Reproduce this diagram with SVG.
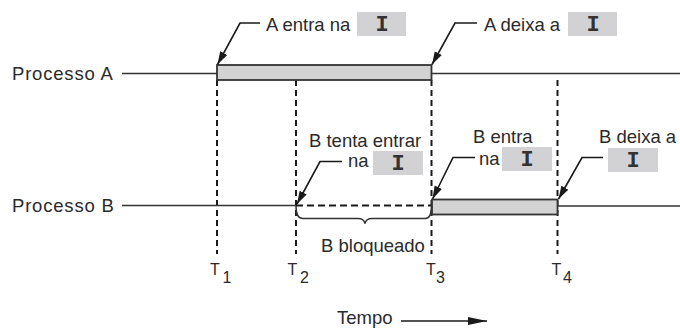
<svg xmlns="http://www.w3.org/2000/svg" width="680" height="329" viewBox="0 0 680 329">
  <style>
    .lbl { font-family: "Liberation Sans", Arial, Helvetica, sans-serif; font-size: 18.5px; fill: #2a2a2a; }
    .proc { letter-spacing: 0.8px; }
    .tl { font-family: "Liberation Sans", Arial, Helvetica, sans-serif; font-size: 16px; fill: #2a2a2a; }
    .res { font-family: "Liberation Mono", "Courier New", monospace; font-size: 22px; font-weight: bold; fill: #333; text-anchor: middle; }
    .box { fill: #d2d2d4; }
    .axis { stroke: #333; stroke-width: 1.4; fill: none; }
    .bar { fill: #d3d3d3; stroke: #333; stroke-width: 1.8; }
    .tick { stroke: #1a1a1a; stroke-width: 2; stroke-dasharray: 6 4; fill: none; }
    .wait { stroke: #1a1a1a; stroke-width: 2; stroke-dasharray: 7 4; fill: none; }
    .lead { stroke: #1a1a1a; stroke-width: 1.6; fill: none; }
    .brace { stroke: #333; stroke-width: 1.5; fill: none; }
  </style>
  <defs>
    <marker id="tip" markerUnits="userSpaceOnUse" markerWidth="14" markerHeight="10" refX="13" refY="4" orient="auto">
      <path d="M0,0 L13,4 L0,8 Z" fill="#1a1a1a"/>
    </marker>
    <marker id="timeTip" markerUnits="userSpaceOnUse" markerWidth="20" markerHeight="10" refX="19" refY="4" orient="auto">
      <path d="M0,0 L19,4 L0,8 Z" fill="#1a1a1a"/>
    </marker>
  </defs>

  <!-- time marks -->
  <g id="marks">
    <line class="tick" x1="217" y1="80" x2="217" y2="254"/>
    <line class="tick" x1="296" y1="80" x2="296" y2="254"/>
    <line class="tick" x1="431.5" y1="80" x2="431.5" y2="254"/>
    <line class="tick" x1="557.5" y1="80" x2="557.5" y2="254"/>
    <text class="tl" x="210" y="275">T</text><text class="tl" x="222.5" y="282.5">1</text>
    <text class="tl" x="287.5" y="275">T</text><text class="tl" x="300" y="282.5">2</text>
    <text class="tl" x="426" y="275">T</text><text class="tl" x="436" y="282.5">3</text>
    <text class="tl" x="551.5" y="275">T</text><text class="tl" x="563" y="282.5">4</text>
  </g>

  <!-- process A timeline -->
  <g id="procA">
    <text class="lbl proc" x="12" y="80">Processo A</text>
    <line class="axis" x1="122" y1="73.5" x2="217" y2="73.5"/>
    <line class="axis" x1="431" y1="73.5" x2="680" y2="73.5"/>
    <rect class="bar" x="217" y="65" width="214.5" height="15"/>
  </g>

  <!-- process B timeline -->
  <g id="procB">
    <text class="lbl proc" x="12" y="212">Processo B</text>
    <line class="axis" x1="122" y1="205.5" x2="296" y2="205.5"/>
    <line class="wait" x1="296" y1="205.5" x2="432" y2="205.5"/>
    <line class="axis" x1="557" y1="206" x2="680" y2="206"/>
    <rect class="bar" x="432" y="199.5" width="125.5" height="15"/>
    <path class="brace" d="M296,206 Q296,218.5 303,218.5 L358,218.5 Q364,218.5 365,223.5 Q366,218.5 372,218.5 L425,218.5 Q431.5,218.5 431.5,206"/>
    <text class="lbl" x="321" y="252">B bloqueado</text>
  </g>

  <!-- event labels -->
  <g id="aEnters">
    <text class="lbl" x="266" y="31">A entra na</text>
    <rect class="box" x="357" y="12" width="49" height="24"/>
    <text class="res" x="382" y="31">I</text>
  </g>
  <g id="aLeaves">
    <text class="lbl" x="484" y="31">A deixa a</text>
    <rect class="box" x="568" y="12" width="49" height="24"/>
    <text class="res" x="593" y="31">I</text>
  </g>
  <g id="bTries">
    <text class="lbl" x="309" y="146.5">B tenta entrar</text>
    <text class="lbl" x="348" y="166.5">na</text>
    <rect class="box" x="373" y="151" width="50" height="24"/>
    <text class="res" x="398" y="170">I</text>
  </g>
  <g id="bEnters">
    <text class="lbl" x="473" y="142.5">B entra</text>
    <text class="lbl" x="479" y="165">na</text>
    <rect class="box" x="502" y="147" width="50" height="24"/>
    <text class="res" x="527" y="166">I</text>
  </g>
  <g id="bLeaves">
    <text class="lbl" x="599" y="142.5">B deixa a</text>
    <rect class="box" x="608" y="148" width="50" height="24"/>
    <text class="res" x="633" y="167">I</text>
  </g>

  <!-- time axis -->
  <g id="tempo">
    <text class="lbl" x="337" y="324">Tempo</text>
  </g>

  <!-- connectors -->
  <g id="connectors">
    <polyline class="lead" points="260,23 240,23 217.5,64.5" marker-end="url(#tip)"/>
    <polyline class="lead" points="477,23 455,23 432,64.5" marker-end="url(#tip)"/>
    <polyline class="lead" points="342,161.5 320,161.5 297,204" marker-end="url(#tip)"/>
    <polyline class="lead" points="475,157.5 453,157.5 432.5,199" marker-end="url(#tip)"/>
    <polyline class="lead" points="603,157.5 582,157.5 558.5,199" marker-end="url(#tip)"/>
    <line class="lead" x1="401" y1="321" x2="487" y2="321" stroke-width="1.8" marker-end="url(#timeTip)"/>
  </g>
</svg>
